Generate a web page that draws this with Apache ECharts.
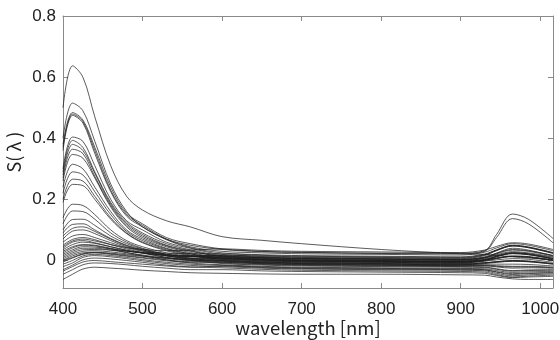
<!DOCTYPE html>
<html><head><meta charset="utf-8">
<script src="https://cdn.jsdelivr.net/npm/echarts@6/dist/echarts.min.js"></script>
<style>html,body{margin:0;padding:0;background:#fff}#c{width:560px;height:340px}</style>
</head><body><div id="c"></div>
<script>
// wavelengths (nm) at which each spectrum was read
const wavelengths = [400, 412, 425, 440, 460, 480, 500, 530, 560, 600, 650, 700, 800, 900, 930, 945, 965, 985, 1016];
const xTicks = [400, 500, 600, 700, 800, 900, 1000];
const yTicks = [0, 0.2, 0.4, 0.6, 0.8];

const s01 = [0.50,0.637,0.60,0.47,0.31,0.21,0.165,0.13,0.11,0.078,0.066,0.055,0.036,0.022,0.020,0.017,0.012,0.008,0.002];
const s02 = [0.40,0.515,0.49,0.39,0.25,0.16,0.11,0.07,0.05,0.036,0.029,0.026,0.024,0.024,0.032,0.085,0.152,0.135,0.072];
const s03 = [0.38,0.484,0.46,0.37,0.24,0.155,0.12,0.075,0.055,0.038,0.03,0.027,0.023,0.022,0.03,0.075,0.137,0.12,0.058];
const s04 = [0.37,0.479,0.455,0.36,0.23,0.15,0.115,0.07,0.045,0.03,0.025,0.022,0.02,0.018,0.027,0.041,0.055,0.05,0.032];
const s05 = [0.36,0.475,0.45,0.35,0.225,0.145,0.11,0.068,0.042,0.025,0.019,0.016,0.014,0.012,0.021,0.035,0.049,0.044,0.026];
const s06 = [0.30,0.404,0.39,0.31,0.20,0.13,0.10,0.06,0.04,0.02,0.015,0.012,0.01,0.008,0.018,0.034,0.05,0.044,0.025];
const s07 = [0.29,0.393,0.37,0.29,0.19,0.125,0.09,0.055,0.035,0.016,0.01,0.007,0.005,0.003,0.009,0.017,0.025,0.022,0.01];
const s08 = [0.28,0.38,0.36,0.285,0.185,0.12,0.085,0.05,0.032,0.012,0.006,0.002,0.0,-0.002,0.003,0.009,0.015,0.013,0.003];
const s09 = [0.27,0.364,0.35,0.275,0.18,0.115,0.08,0.048,0.03,0.014,0.009,0.006,0.004,0.002,0.01,0.022,0.034,0.03,0.015];
const s10 = [0.26,0.347,0.335,0.27,0.175,0.11,0.075,0.045,0.026,0.008,0.002,-0.002,-0.004,-0.006,-0.002,0.002,0.006,0.004,-0.006];
const s11 = [0.24,0.315,0.30,0.24,0.16,0.10,0.07,0.04,0.022,0.003,-0.003,-0.006,-0.008,-0.01,-0.007,-0.005,-0.003,-0.004,-0.012];
const s12 = [0.20,0.266,0.26,0.21,0.14,0.09,0.06,0.035,0.018,-0.001,-0.007,-0.01,-0.012,-0.014,-0.012,-0.012,-0.012,-0.013,-0.018];
const s13 = [0.19,0.249,0.245,0.20,0.135,0.088,0.058,0.032,0.016,0.004,-0.001,-0.004,-0.006,-0.008,-0.002,0.006,0.014,0.011,0.0];
const s14 = [0.14,0.184,0.18,0.15,0.10,0.065,0.045,0.025,0.014,0.008,0.003,0.0,-0.002,-0.004,0.001,0.007,0.013,0.011,0.0];
const s15 = [0.12,0.162,0.16,0.135,0.09,0.06,0.04,0.02,0.008,-0.005,-0.01,-0.013,-0.015,-0.017,-0.017,-0.021,-0.025,-0.024,-0.025];
const s16 = [0.10,0.134,0.135,0.115,0.08,0.055,0.038,0.02,0.012,0.01,0.005,0.002,0.0,-0.002,0.008,0.024,0.04,0.034,0.015];
const s17 = [0.09,0.118,0.12,0.10,0.072,0.05,0.035,0.016,0.004,-0.008,-0.013,-0.016,-0.018,-0.02,-0.021,-0.027,-0.033,-0.031,-0.03];
const s18 = [0.07,0.096,0.10,0.088,0.065,0.045,0.032,0.015,0.006,0.0,-0.005,-0.008,-0.01,-0.012,-0.008,-0.004,0.0,-0.002,-0.01];
const s19 = [0.06,0.08,0.085,0.075,0.058,0.042,0.03,0.015,0.008,0.006,0.001,-0.002,-0.004,-0.006,0.002,0.014,0.026,0.022,0.006];
const s20 = [0.05,0.069,0.075,0.068,0.052,0.038,0.026,0.01,0.0,-0.01,-0.015,-0.018,-0.02,-0.022,-0.023,-0.029,-0.035,-0.033,-0.032];
const s21 = [0.035,0.052,0.06,0.056,0.045,0.034,0.024,0.01,0.002,-0.002,-0.007,-0.01,-0.012,-0.014,-0.01,-0.006,-0.002,-0.004,-0.012];
const s22 = [0.025,0.041,0.05,0.048,0.038,0.026,0.016,0.002,-0.008,-0.014,-0.019,-0.022,-0.024,-0.026,-0.027,-0.033,-0.039,-0.037,-0.036];
const s23 = [0.015,0.03,0.04,0.04,0.034,0.026,0.018,0.008,0.002,0.004,-0.001,-0.004,-0.006,-0.008,0.0,0.012,0.024,0.02,0.004];
const s24 = [0.005,0.02,0.03,0.032,0.028,0.022,0.015,0.006,0.0,0.0,-0.005,-0.008,-0.01,-0.012,-0.008,-0.004,0.0,-0.002,-0.01];
const s25 = [-0.005,0.008,0.02,0.025,0.02,0.014,0.008,-0.001,-0.006,-0.006,-0.011,-0.014,-0.016,-0.018,-0.017,-0.019,-0.021,-0.021,-0.024];
const s26 = [-0.012,0.0,0.015,0.02,0.016,0.01,0.003,-0.006,-0.012,-0.016,-0.021,-0.024,-0.026,-0.028,-0.03,-0.038,-0.046,-0.043,-0.04];
const s27 = [-0.02,-0.008,0.01,0.016,0.012,0.006,-0.001,-0.01,-0.016,-0.02,-0.025,-0.028,-0.03,-0.032,-0.034,-0.042,-0.05,-0.047,-0.044];
const s28 = [-0.03,-0.015,0.002,0.008,0.005,0.0,-0.006,-0.015,-0.021,-0.024,-0.029,-0.032,-0.034,-0.036,-0.038,-0.046,-0.054,-0.051,-0.048];
const s29 = [-0.045,-0.03,-0.014,-0.008,-0.01,-0.014,-0.019,-0.025,-0.03,-0.03,-0.034,-0.036,-0.038,-0.04,-0.042,-0.049,-0.056,-0.054,-0.052];
const s30 = [-0.062,-0.045,-0.028,-0.022,-0.025,-0.028,-0.032,-0.036,-0.04,-0.042,-0.044,-0.045,-0.045,-0.047,-0.048,-0.054,-0.06,-0.062,-0.062];
const s31 = [0.04,0.06,0.065,0.058,0.045,0.033,0.025,0.016,0.014,0.018,0.013,0.01,0.008,0.006,0.016,0.032,0.048,0.042,0.023];
const s32 = [0.01,0.025,0.035,0.036,0.034,0.03,0.027,0.024,0.022,0.022,0.017,0.014,0.012,0.01,0.019,0.033,0.047,0.042,0.024];
const s33 = [0.0,0.015,0.025,0.027,0.024,0.019,0.014,0.008,0.006,0.008,0.003,0.0,-0.002,-0.004,0.003,0.013,0.023,0.019,0.006];
const s34 = [0.02,0.035,0.045,0.044,0.038,0.031,0.025,0.019,0.016,0.016,0.011,0.008,0.006,0.004,0.012,0.024,0.036,0.032,0.017];
const s35 = [0.22,0.29,0.28,0.225,0.15,0.095,0.065,0.038,0.022,0.008,0.003,0.0,-0.002,-0.004,0.001,0.007,0.013,0.011,0.0];
const s36 = [0.08,0.105,0.11,0.095,0.07,0.048,0.034,0.02,0.014,0.014,0.009,0.006,0.004,0.002,0.009,0.019,0.029,0.025,0.012];
const s37 = [-0.035,-0.02,-0.005,0.0,-0.004,-0.008,-0.012,-0.018,-0.022,-0.018,-0.023,-0.026,-0.028,-0.03,-0.031,-0.037,-0.043,-0.041,-0.04];
const s38 = [0.0,0.01,0.022,0.026,0.022,0.016,0.01,0.002,-0.004,-0.004,-0.009,-0.012,-0.014,-0.016,-0.015,-0.017,-0.019,-0.019,-0.022];
const s39 = [0.03,0.045,0.052,0.05,0.04,0.031,0.024,0.016,0.013,0.012,0.007,0.004,0.002,0.0,0.006,0.014,0.022,0.019,0.007];
const s40 = [0.045,0.064,0.07,0.064,0.052,0.042,0.036,0.032,0.034,0.038,0.033,0.03,0.028,0.026,0.034,0.046,0.058,0.054,0.036];

const spectra = [s01,s02,s03,s04,s05,s06,s07,s08,s09,s10,s11,s12,s13,s14,s15,s16,s17,s18,s19,s20,
                 s21,s22,s23,s24,s25,s26,s27,s28,s29,s30,s31,s32,s33,s34,s35,s36,s37,s38,s39,s40];

const chart = echarts.init(document.getElementById('c'), null, {renderer: 'canvas'});
const axisCol = '#8a8a8a';
const labelFont = {color: '#222', fontSize: 17, fontFamily: 'Arial, "Liberation Sans", Helvetica, sans-serif'};
const xBase = {
  type: 'value', min: 400, max: 1016,
  splitLine: {show: false},
  axisLine: {show: true, onZero: false, lineStyle: {color: axisCol, width: 1}},
  axisTick: {show: true, inside: true, length: 5, customValues: xTicks, lineStyle: {color: axisCol}},
};
const yBase = {
  type: 'value', min: -0.09, max: 0.8,
  splitLine: {show: false},
  axisLine: {show: true, onZero: false, lineStyle: {color: axisCol, width: 1}},
  axisTick: {show: true, inside: true, length: 5, customValues: yTicks, lineStyle: {color: axisCol}},
};
chart.setOption({
  animation: false,
  grid: {left: 63, right: 7, top: 16, bottom: 52, containLabel: false, outerBoundsMode: 'none'},
  xAxis: [
    Object.assign({}, xBase, {
      position: 'bottom',
      axisLabel: Object.assign({customValues: xTicks, margin: 13, formatter: v => String(v)}, labelFont),
      name: 'wavelength [nm]', nameLocation: 'middle', nameGap: 31, nameMoveOverlap: false,
      nameTextStyle: {color: '#222', fontSize: 18.5, fontFamily: '"Noto Sans CJK JP"'}
    }),
    Object.assign({}, xBase, {position: 'top', axisLabel: {show: false}})
  ],
  yAxis: [
    Object.assign({}, yBase, {
      position: 'left',
      axisLabel: Object.assign({customValues: yTicks, margin: 7, formatter: v => String(v)}, labelFont),
      name: 'S( λ )', nameLocation: 'middle', nameGap: 40, nameRotate: 90, nameMoveOverlap: false,
      nameTextStyle: {color: '#222', fontSize: 18, fontFamily: '"Noto Sans CJK JP"'}
    }),
    Object.assign({}, yBase, {position: 'right', axisLabel: {show: false}})
  ],
  series: spectra.map((vals, k) => ({
    type: 'line', name: 'S' + (k + 1), xAxisIndex: 0, yAxisIndex: 0,
    data: wavelengths.map((w, i) => [w, vals[i]]),
    smooth: 0.35, symbol: 'none', silent: true,
    lineStyle: {color: '#1c1c1c', width: 0.8, opacity: 0.9}
  }))
});
</script></body></html>
